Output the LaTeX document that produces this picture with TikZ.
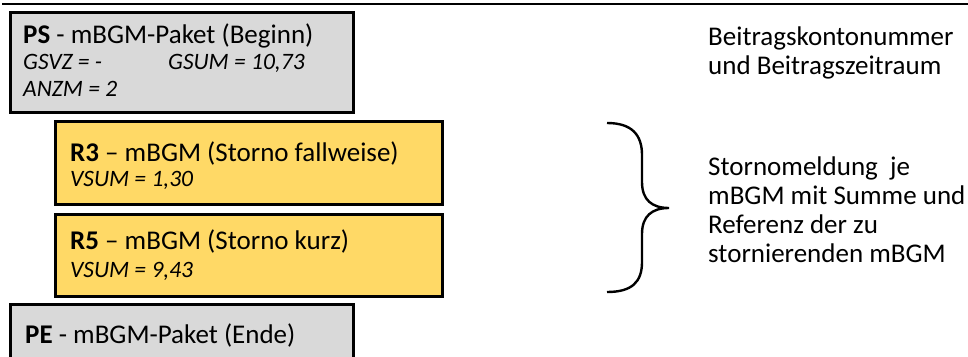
\documentclass[tikz,border=0pt]{standalone}
\usepackage{fontspec}
\setmainfont{Carlito}
\definecolor{paketgrau}{HTML}{D9D9D9}
\definecolor{meldunggelb}{HTML}{FFD966}
\tikzset{
  satzbox/.style={draw=black, line width=2.6pt, anchor=north west, inner sep=0pt},
  titeltext/.style={anchor=base west, inner sep=0pt, font=\fontsize{27}{30}\selectfont},
  werttext/.style={anchor=base west, inner sep=0pt, font=\fontsize{23.5}{26}\selectfont\itshape},
  notiztext/.style={anchor=north west, inner sep=0pt, align=left, font=\fontsize{27}{28.8}\selectfont}
}
\begin{document}
\begin{tikzpicture}[x=1pt, y=-1pt]

    % Rahmen der Seite
    \useasboundingbox (0,0) rectangle (968,356);
    \clip (0,0) rectangle (968,356);

    % Linie oben
    \draw[line width=2pt] (2,4) -- (968,4);

    % Paket Beginn
    \node[satzbox, fill=paketgrau, minimum width=343pt, minimum height=100pt] (ps) at (9,11) {};
    \node[titeltext] (pstitel) at (23,43) {\textbf{PS} - mBGM-Paket (Beginn)};
    \node[werttext] (gsvz) at (23,69) {GSVZ = -};
    \node[werttext] (gsum) at (168,69) {GSUM = 10,73};
    \node[werttext] (anzm) at (23,96) {ANZM = 2};

    % Stornomeldungen
    \node[satzbox, fill=meldunggelb, minimum width=387pt, minimum height=83pt] (rdrei) at (54,120) {};
    \node[titeltext] (rdreititel) at (70,161) {\textbf{R3} -- mBGM (Storno fallweise)};
    \node[werttext] (rdreisum) at (70,186) {VSUM = 1,30};

    \node[satzbox, fill=meldunggelb, minimum width=387pt, minimum height=82pt] (rfuenf) at (54,213) {};
    \node[titeltext] (rfuenftitel) at (70,249) {\textbf{R5} -- mBGM (Storno kurz)};
    \node[werttext] (rfuenfsum) at (70,277) {VSUM = 9,43};

    % Paket Ende
    \node[satzbox, fill=paketgrau, minimum width=343pt, minimum height=80pt] (pe) at (9,303) {};
    \node[titeltext] (petitel) at (25,343) {\textbf{PE} - mBGM-Paket (Ende)};

    % Erläuterungen rechts
    \node[notiztext] (kopfnotiz) at (708,27) {Beitragskontonummer\\und Beitragszeitraum};
    \node[notiztext] (stornonotiz) at (708,157) {Stornomeldung~ je\\mBGM mit Summe und\\Referenz der zu\\stornierenden mBGM};

    % Klammer
    \draw[line width=2.4pt] (607,123) .. controls (632,123) and (642,135) .. (642,155)
        -- (642,182) .. controls (642,200) and (652,208) .. (669,208)
        .. controls (652,208) and (642,216) .. (642,234)
        -- (642,262) .. controls (642,282) and (632,292) .. (607,292);

\end{tikzpicture}
\end{document}
